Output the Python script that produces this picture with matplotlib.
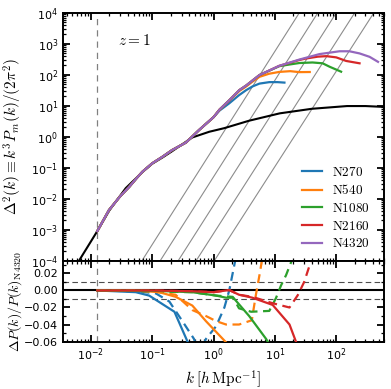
import matplotlib
matplotlib.use('agg')
import matplotlib.pyplot as plt
from matplotlib.ticker import MultipleLocator, LogLocator, NullFormatter

plt.rcParams['mathtext.fontset'] = 'cm'
plt.rcParams['axes.linewidth'] = 1.4

# simulation names and colours
sims = ['N270', 'N540', 'N1080', 'N2160', 'N4320']
colors = ['#1f77b4', '#ff7f0e', '#2ca02c', '#d62728', '#9467bd']

# fundamental mode of the box
k_fund = 0.01257

# linear theory
k_lin = [0.0035, 0.0065, 0.0127, 0.02, 0.037, 0.069, 0.1, 0.15, 0.21, 0.3, 0.45,
         0.85, 1.5, 3.8, 12, 40, 150, 300, 600]
D_lin = [1.2e-5, 1.05e-4, 9e-4, 0.0042, 0.022, 0.072, 0.135, 0.22, 0.34, 0.55, 0.95,
         1.45, 1.9, 3.3, 5.7, 8.0, 9.8, 9.8, 9.2]

# low-k part shared by all runs
k_shared = [0.0127, 0.0197, 0.03, 0.042, 0.055, 0.069, 0.1, 0.147, 0.21, 0.354, 0.58, 1.0]
D_shared = [9e-4, 0.0043, 0.012, 0.024, 0.045, 0.074, 0.139, 0.226, 0.37, 0.65, 1.65, 4.3]

# high-k part of each run
k_N270 = [1.25, 1.8, 2.6, 3.4, 4.3, 5.6, 8.1, 11, 14.3]
D_N270 = [7.0, 12, 22, 32, 42, 52, 58, 58, 56]
k_N540 = [1.25, 1.8, 2.63, 3.4, 4.3, 5.6, 8.0, 11.8, 17.8, 25, 37]
D_N540 = [7.5, 14.5, 30, 42, 60, 86, 108, 124, 131, 122, 123]
k_N1080 = [1.25, 1.8, 2.63, 3.4, 5.6, 11.8, 17.3, 25, 41, 60, 78, 120]
D_N1080 = [7.5, 15, 32, 45, 98, 190, 215, 240, 250, 235, 182, 126]
k_N2160 = [1.25, 1.8, 2.63, 3.4, 5.6, 11.8, 25, 32, 50, 69, 100, 145, 240]
D_N2160 = [7.5, 15, 32, 45, 98, 195, 300, 335, 385, 400, 365, 280, 235]
k_N4320 = [1.25, 1.8, 2.63, 3.4, 5.6, 11.8, 25, 53, 113, 164, 240, 350, 480]
D_N4320 = [7.5, 15, 32, 45, 98, 195, 310, 465, 575, 575, 490, 380, 262]

# shot-noise lines: k where each crosses 1e-4 and 1e4
shot_D = [1e-4, 1e4]
shot_k_bottom = [0.068, 0.135, 0.265, 0.52, 1.03]
shot_k_top = [25, 50, 100, 200, 410]

# ratios to N4320, solid and dashed
rk_N270 = [0.0127, 0.054, 0.089, 0.23, 0.42]
r_N270 = [0, -0.002, -0.006, -0.025, -0.068]
rk_N270_d = [0.0127, 0.06, 0.115, 0.19, 0.31, 0.48, 0.58, 0.75, 1.1, 1.5, 1.8, 2.4]
r_N270_d = [0, -0.001, -0.0035, -0.013, -0.036, -0.057, -0.075, -0.057, -0.042, -0.02, 0.0, 0.045]
rk_N540 = [0.0127, 0.06, 0.13, 0.24, 0.45, 0.75, 1.7]
r_N540 = [0, -0.0003, -0.002, -0.0074, -0.0177, -0.036, -0.063]
rk_N540_d = [0.0127, 0.1, 0.24, 0.45, 0.75, 1.1, 1.6, 2.6, 4.2, 4.9, 5.6, 6.3]
r_N540_d = [0, -0.001, -0.005, -0.023, -0.030, -0.036, -0.040, -0.040, -0.035, -0.005, 0.018, 0.04]
rk_N1080 = [0.0127, 0.1, 0.45, 1.1, 1.6, 2.1, 3.8, 7.2, 8.5]
r_N1080 = [0, -0.0003, -0.002, -0.006, -0.0085, -0.0085, -0.030, -0.057, -0.066]
rk_N1080_d = [0.0127, 0.45, 1.1, 2.05, 2.6, 4.1, 8.1, 10.4, 12.6, 15.2, 19]
r_N1080_d = [0, -0.002, -0.006, -0.0075, -0.021, -0.025, -0.024, -0.009, 0.006, 0.018, 0.036]
rk_N2160 = [0.0127, 0.1, 0.5, 1.0, 1.8, 2.6, 4.3, 9.2, 17.3, 22, 25]
r_N2160 = [0, 0.0, -0.001, -0.002, 0.0005, -0.005, -0.0085, -0.017, -0.040, -0.060, -0.07]
rk_N2160_d = [0.0127, 0.1, 0.5, 1.0, 1.8, 2.6, 4.3, 9.2, 17.3, 23.6, 30, 36.6, 40]
r_N2160_d = [0, 0.0, -0.001, -0.002, 0.0005, -0.005, -0.0075, -0.015, -0.020, -0.0055, 0.01, 0.029, 0.04]

fig = plt.figure(figsize=(3.91, 3.89), dpi=100)
gs = fig.add_gridspec(2, 1, height_ratios=[247.7, 80.8], hspace=0,
                      left=0.161, right=0.982, top=0.967, bottom=0.122)
ax = fig.add_subplot(gs[0])
axr = fig.add_subplot(gs[1], sharex=ax)

# top panel
for kb, kt in zip(shot_k_bottom, shot_k_top):
    ax.plot([kb, kt], shot_D, color='0.55', lw=0.8, zorder=1)
ax.axvline(k_fund, color='0.5', ls=(0, (5, 4)), lw=0.9, zorder=1)
ax.plot(k_lin, D_lin, color='k', lw=1.5, zorder=2)
highk = {'N270': (k_N270, D_N270), 'N540': (k_N540, D_N540), 'N1080': (k_N1080, D_N1080),
         'N2160': (k_N2160, D_N2160), 'N4320': (k_N4320, D_N4320)}
for name, c in zip(sims, colors):
    kk, dd = highk[name]
    ax.plot(k_shared + kk, D_shared + dd, color=c, lw=1.6, zorder=3,
            label=r'$\mathrm{%s}$' % name)

ax.set_xscale('log')
ax.set_yscale('log')
ax.set_xlim(3.5e-3, 600)
ax.set_ylim(1e-4, 1e4)
ax.yaxis.set_major_locator(LogLocator(base=10, numticks=20))
ax.yaxis.set_minor_locator(LogLocator(base=10, subs=range(2, 10), numticks=100))
ax.yaxis.set_minor_formatter(NullFormatter())
ax.set_ylabel(r'$\Delta^2(k) \equiv k^3 P_m(k)/(2\pi^2)$', fontsize=11)
ax.text(0.224, 0.89, r'$z=1$', transform=ax.transAxes, fontsize=11, ha='center', va='center')
ax.legend(loc='lower right', frameon=False, fontsize=9.5, handlelength=1.5,
          labelspacing=0.35, borderaxespad=0.4, bbox_to_anchor=(0.99, 0.0))
plt.setp(ax.get_xticklabels(), visible=False)

# bottom panel
axr.axhline(0, color='k', lw=1.5, zorder=1)
axr.axhline(0.01, color='0.3', ls=(0, (5, 3)), lw=0.8, zorder=1)
axr.axhline(-0.01, color='0.3', ls=(0, (5, 3)), lw=0.8, zorder=1)
axr.axvline(k_fund, color='0.5', ls=(0, (5, 4)), lw=0.9, zorder=1)
ratios = [(rk_N270, r_N270, rk_N270_d, r_N270_d),
          (rk_N540, r_N540, rk_N540_d, r_N540_d),
          (rk_N1080, r_N1080, rk_N1080_d, r_N1080_d),
          (rk_N2160, r_N2160, rk_N2160_d, r_N2160_d)]
for (ks, rs, kd, rd), c in zip(ratios, colors):
    axr.plot(kd, rd, color=c, lw=1.6, ls=(0, (4, 2.5)), zorder=2)
    axr.plot(ks, rs, color=c, lw=1.6, zorder=3)
axr.set_ylim(-0.06, 0.035)
axr.yaxis.set_major_locator(MultipleLocator(0.02))
axr.yaxis.set_minor_locator(MultipleLocator(0.01))
axr.xaxis.set_major_locator(LogLocator(base=10, numticks=20))
axr.xaxis.set_minor_locator(LogLocator(base=10, subs=range(2, 10), numticks=100))
axr.xaxis.set_minor_formatter(NullFormatter())
axr.set_ylabel(r'$\Delta P(k)/P(k)_{\rm N4320}$', fontsize=10)
axr.set_xlabel(r'$k\;[h\,\mathrm{Mpc}^{-1}]$', fontsize=11)

for a in (ax, axr):
    a.tick_params(which='both', direction='in', top=True, right=True, labelsize=8)
    a.tick_params(which='major', length=5, width=1.3)
    a.tick_params(which='minor', length=2.5, width=0.9)
    a.yaxis.set_label_coords(-0.12, 0.5)

plt.savefig('out.png', dpi=100)
